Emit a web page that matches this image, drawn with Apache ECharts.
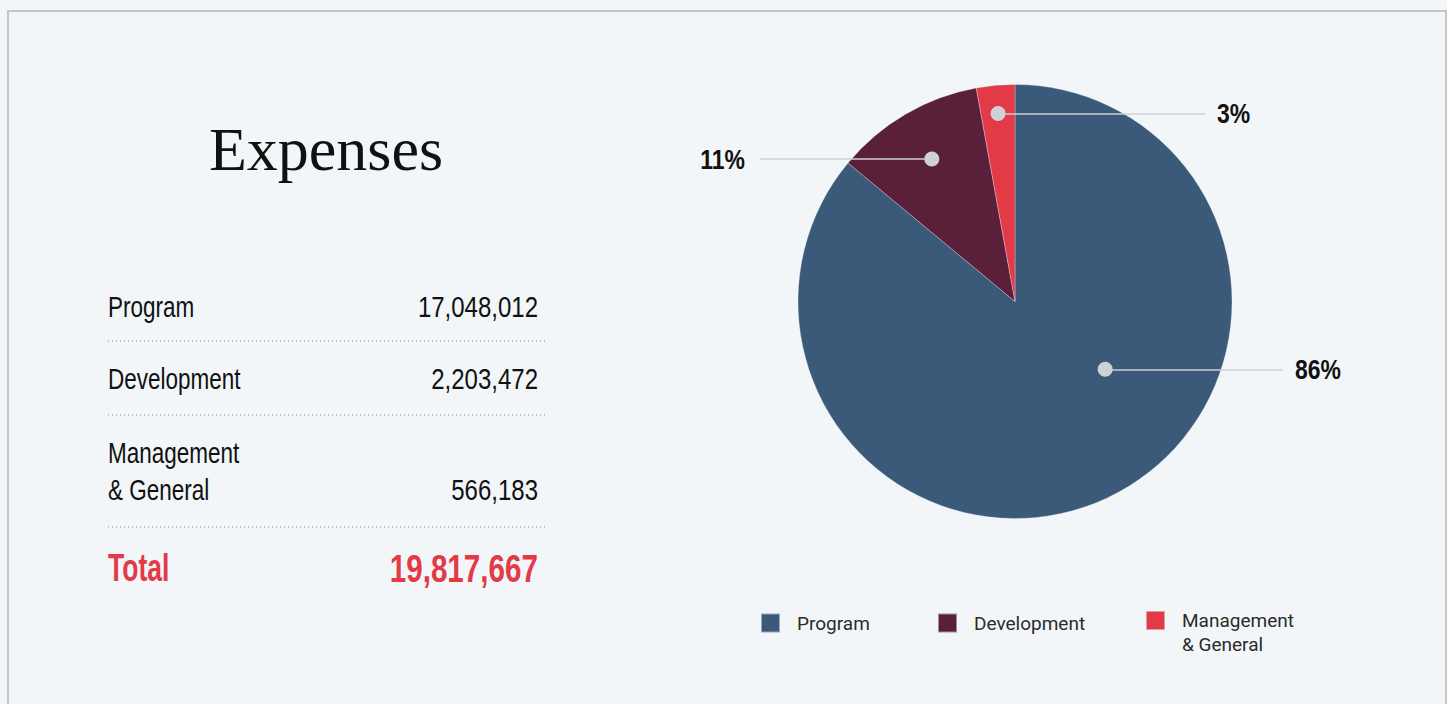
<!DOCTYPE html>
<html>
<head>
<meta charset="utf-8">
<script src="https://cdn.jsdelivr.net/npm/echarts@6/dist/echarts.min.js"></script>
<style>
  html, body { margin: 0; padding: 0; background: #f2f6f9; overflow: hidden; }
  #frame { position: absolute; left: 7px; top: 10px; width: 1436px; height: 800px;
           border: 2px solid #c3c6c9; background: #f2f6f9; }
  #chart { position: absolute; left: 0; top: 0; width: 1447px; height: 704px; }
</style>
</head>
<body>
<div id="frame"></div>
<div id="chart"></div>
<script>
// ---- data ----
const title = 'Expenses';
const categories = ['Program', 'Development', 'Management & General'];
const tableLabels = [['Program'], ['Development'], ['Management', '& General']];
const amounts = [17048012, 2203472, 566183];
const totalLabel = 'Total';
const colors = ['#3b5a79', '#5b2039', '#e33a48'];

// ---- derived ----
const total = amounts.reduce((a, b) => a + b, 0);
const fmt = v => v.toLocaleString('en-US');
const pct = v => Math.round(v / total * 100) + '%';

const SANS = '"Liberation Sans", Arial, sans-serif';
const LEG = 'Roboto, "Liberation Sans", sans-serif';
const SERIF = '"Liberation Serif", "DejaVu Serif", serif';

// pie geometry
const CX = 1015, CY = 301.5, R = 217;
// callout anchor styling
const anchorFrac = [0.41, 0.5, 0.5];
const anchorR = [0.52, 0.76, 0.87];
const lineEndX = [1.235, -1.175, 0.876];
const labelSide = ['right', 'left', 'right'];

let cum = 0;
const dots = [], segs = [], ends = [];
amounts.forEach((v, i) => {
  const start = cum / total * 360;
  const span = v / total * 360;
  cum += v;
  const theta = start + anchorFrac[i] * span;
  const phi = (90 - theta) * Math.PI / 180;
  const p = [anchorR[i] * Math.cos(phi), anchorR[i] * Math.sin(phi)];
  const e = [lineEndX[i], p[1]];
  dots.push(p);
  segs.push({ coords: [p, e] });
  ends.push(e);
});

// ---- table graphics ----
const graphics = [];
graphics.push({
  type: 'text', x: 326, y: 149,
  style: { text: title, fontFamily: SERIF, fontSize: 62, fill: '#111', align: 'center', verticalAlign: 'middle' }
});
const rowCenters = [[307], [379], [453, 490]];
const sepY = [341, 415, 527];
tableLabels.forEach((lines, i) => {
  lines.forEach((t, j) => {
    graphics.push({ type: 'text', x: 108, y: rowCenters[i][j], scaleX: 0.75,
      style: { text: t, fontFamily: SANS, fontSize: 30, fill: '#111', align: 'left', verticalAlign: 'middle' } });
  });
  const last = rowCenters[i][rowCenters[i].length - 1];
  graphics.push({ type: 'text', x: 538, y: last, scaleX: 0.8,
    style: { text: fmt(amounts[i]), fontFamily: SANS, fontSize: 30, fill: '#111', align: 'right', verticalAlign: 'middle' } });
  graphics.push({ type: 'line', shape: { x1: 108, y1: sepY[i], x2: 545, y2: sepY[i] },
    style: { stroke: '#8a8a8a', lineWidth: 1, lineDash: [1, 3] } });
});
graphics.push({ type: 'text', x: 108, y: 568, scaleX: 0.68,
  style: { text: totalLabel, fontFamily: SANS, fontSize: 39, fontWeight: 'bold', fill: '#e33a48', align: 'left', verticalAlign: 'middle' } });
graphics.push({ type: 'text', x: 538, y: 568, scaleX: 0.76,
  style: { text: fmt(total), fontFamily: SANS, fontSize: 39, fontWeight: 'bold', fill: '#e33a48', align: 'right', verticalAlign: 'middle' } });

// ---- legends ----
const legendLeft = [760, 937, 1145];
const legends = categories.map((c, i) => ({
  data: [c],
  left: legendLeft[i],
  top: i === 2 ? 611 - 26.5 : 611,
  padding: 0,
  icon: 'rect',
  itemWidth: 19, itemHeight: 19,
  selectedMode: false,
  formatter: n => n.indexOf(' & ') >= 0 ? '\n' + n.replace(' & ', '\n& ') : n,
  textStyle: {
    fontFamily: LEG, fontSize: 19, color: '#2b2b2b',
    lineHeight: 24,
    padding: [0, 0, 0, 12]
  }
}));

const chart = echarts.init(document.getElementById('chart'), null, { renderer: 'svg' });
chart.setOption({
  animation: false,
  backgroundColor: 'transparent',
  color: colors,
  legend: legends,
  grid: { left: CX - R, top: CY - R, width: 2 * R, height: 2 * R, containLabel: false },
  xAxis: { type: 'value', min: -1, max: 1, show: false },
  yAxis: { type: 'value', min: -1, max: 1, show: false },
  graphic: graphics,
  series: [
    {
      type: 'pie',
      z: 1,
      center: [CX, CY],
      radius: R,
      startAngle: 90,
      clockwise: true,
      label: { show: false },
      labelLine: { show: false },
      emphasis: { disabled: true },
      itemStyle: { borderColor: 'rgba(242,246,249,0.5)', borderWidth: 0.6 },
      data: categories.map((c, i) => ({ name: c, value: amounts[i] }))
    },
    {
      type: 'lines',
      z: 5,
      coordinateSystem: 'cartesian2d',
      clip: false,
      silent: true,
      lineStyle: { color: '#cfd0d3', width: 1.5, opacity: 1, curveness: 0 },
      data: segs
    },
    {
      type: 'scatter',
      z: 6,
      clip: false,
      silent: true,
      symbolSize: 15,
      itemStyle: { color: '#d0d1d3', opacity: 1 },
      data: dots
    }
  ]
});

// percentage labels placed at the line ends through the grid's scales
const labelGraphics = ends.map((e, i) => {
  const px = chart.convertToPixel({ gridIndex: 0 }, e);
  const left = labelSide[i] === 'left';
  return {
    type: 'text', x: px[0] + (left ? -15 : 12), y: px[1], scaleX: 0.82, z: 10,
    style: { text: pct(amounts[i]), fontFamily: SANS, fontSize: 28, fontWeight: 'bold', fill: '#111',
             align: left ? 'right' : 'left', verticalAlign: 'middle' }
  };
});
chart.setOption({ graphic: graphics.concat(labelGraphics) });
</script>
</body>
</html>
